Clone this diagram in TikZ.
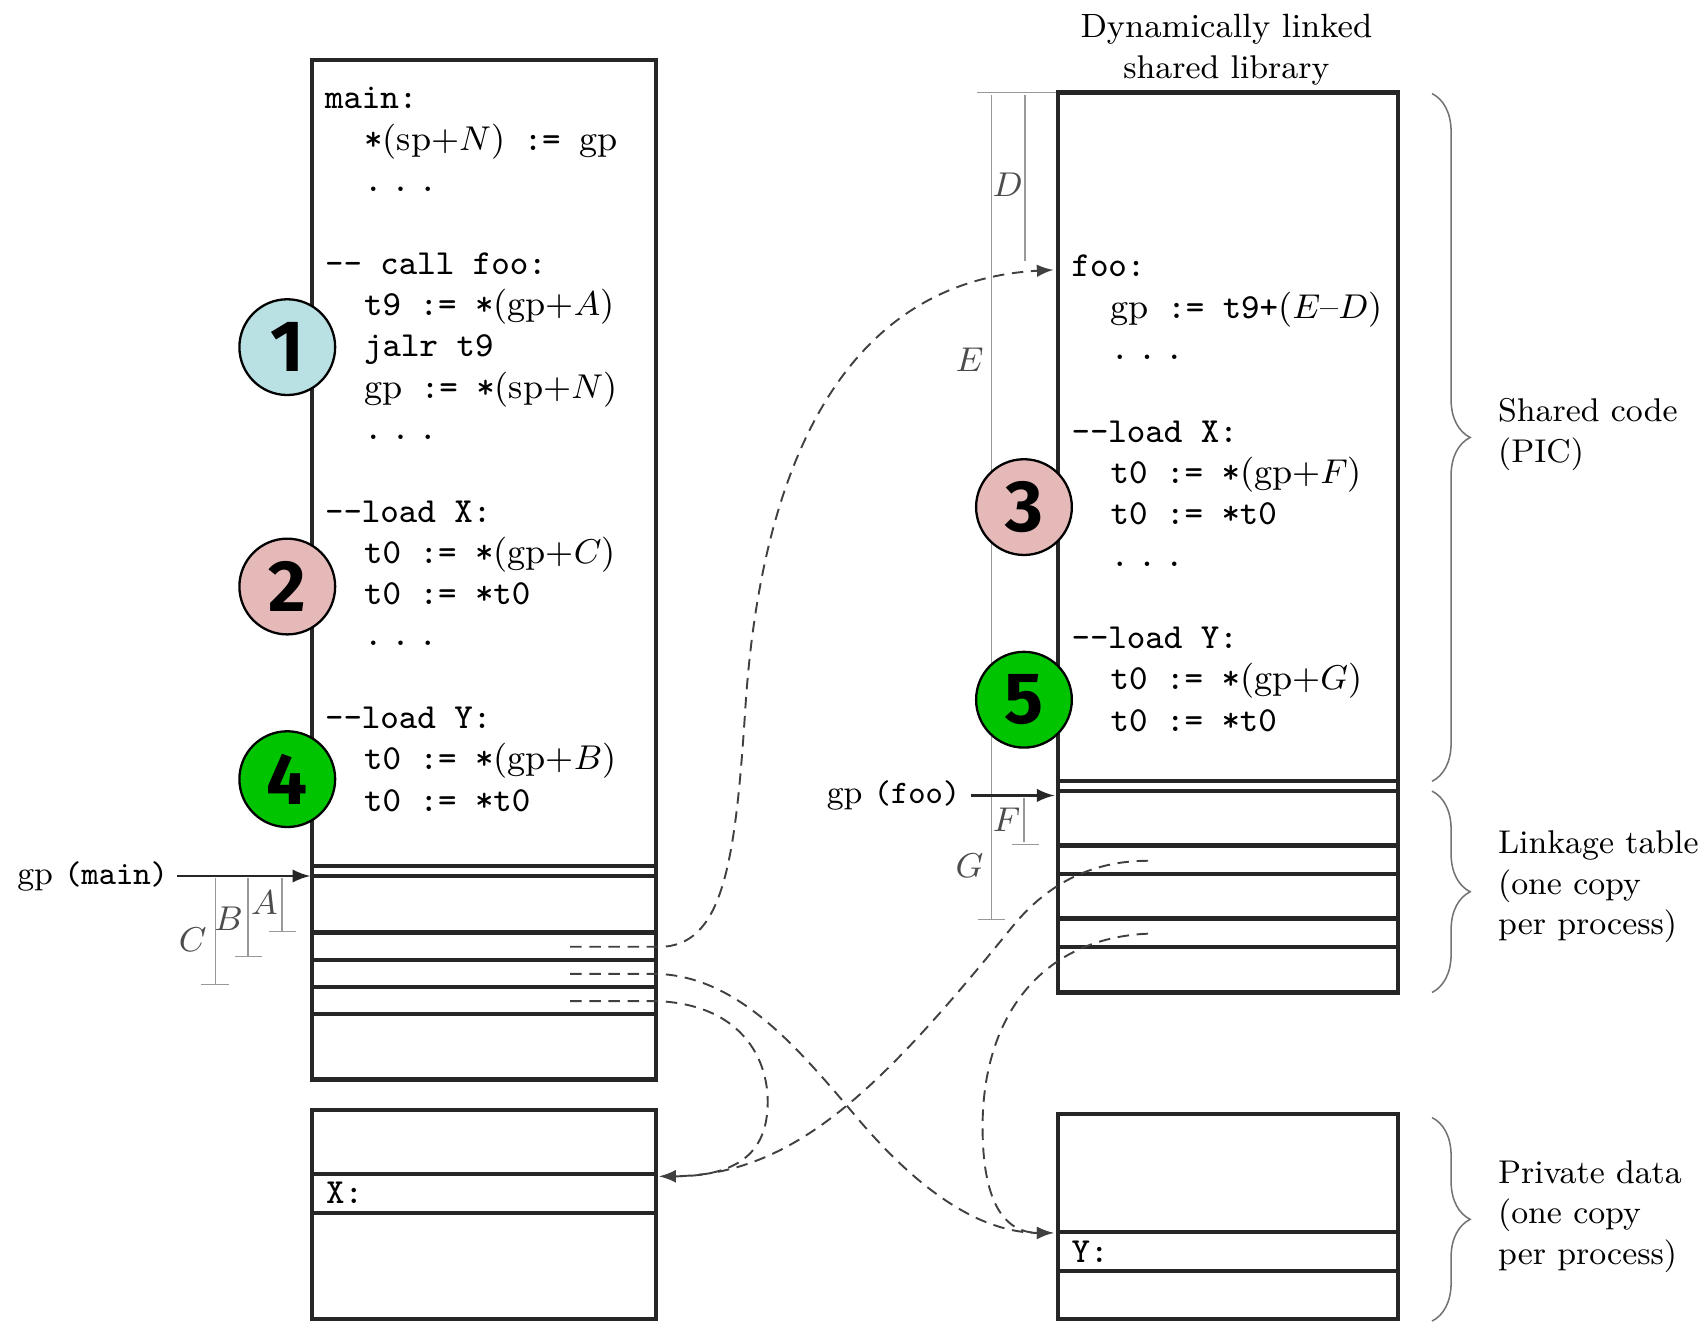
\documentclass[tikz,border=0pt]{standalone}
\usepackage{amsmath}
\usepackage{fontspec}
\newfontfamily\numfont{Fira Sans}
\usetikzlibrary{decorations.pathreplacing}
\definecolor{pblue}{HTML}{B9E1E3}
\definecolor{ppink}{HTML}{E6B9B9}
\definecolor{pgreen}{HTML}{00C400}
\newcommand{\gp}{\textrm{gp}}
\newcommand{\ofs}[2]{\textrm{(#1+}$#2$\textrm{)}}
\newcommand{\ind}{\hspace*{3.6mm}}
\newcommand{\ddd}{.\kern0.8mm.\kern0.8mm.}

\begin{document}
\begin{tikzpicture}[x=0.1mm,y=-0.1mm,
    box/.style={line width=1.1pt,draw=black!85},
    dim/.style={black!40,line width=0.35pt},
    ptr/.style={-latex,black!85,line width=0.6pt},
    link/.style={-latex,black!75,line width=0.5pt,dash pattern=on 3pt off 2pt},
    num/.style={circle,draw,line width=0.6pt,minimum size=8.8mm,inner sep=0pt,
        font=\numfont\bfseries\fontsize{19}{19}\selectfont},
    code/.style={align=left,anchor=base west,inner sep=0pt,
        font=\fontsize{9.2}{10.8}\selectfont\ttfamily},
    lbl/.style={inner sep=0pt,font=\fontsize{8.6}{10.6}\selectfont},
    brc/.style={decorate,decoration={brace,amplitude=3.5mm},black!55,line width=0.4pt}]
    \useasboundingbox (0,0) rectangle (1565,1216);

    % main program and its linkage table
    \draw[box] (287,55) rectangle (603,992);
    \foreach \y in {796,805,857,882,907,932}
        \draw[box] (287,\y) -- (603,\y);
    \draw[box] (287,1020) rectangle (603,1212);
    \foreach \y in {1079,1115}
        \draw[box] (287,\y) -- (603,\y);

    % shared library
    \draw[box] (972,85) rectangle (1285,912);
    \foreach \y in {718,727,777,803,844,870}
        \draw[box] (972,\y) -- (1285,\y);
    \draw[box] (972,1024) rectangle (1285,1212);
    \foreach \y in {1132,1168}
        \draw[box] (972,\y) -- (1285,\y);

    % code (anchored on the baseline of the last line)
    \node[code] (maincode) at (298,745.5) {main:\\
        \ind*\ofs{sp}{N} := \gp\\
        \ind\ddd\\[3.8mm]
        -{}- call foo:\\
        \ind t9 := *\ofs{gp}{A}\\
        \ind jalr t9\\
        \ind\gp{} := *\ofs{sp}{N}\\
        \ind\ddd\\[3.8mm]
        -{}-load X:\\
        \ind t0 := *\ofs{gp}{C}\\
        \ind t0 := *t0\\
        \ind\ddd\\[3.8mm]
        -{}-load Y:\\
        \ind t0 := *\ofs{gp}{B}\\
        \ind t0 := *t0};
    \node[code] (foocode) at (984,672) {foo:\\
        \ind\gp{} := t9+\textrm{(}$E$\textrm{\textendash}$D$\textrm{)}\\
        \ind\ddd\\[3.8mm]
        -{}-load X:\\
        \ind t0 := *\ofs{gp}{F}\\
        \ind t0 := *t0\\
        \ind\ddd\\[3.8mm]
        -{}-load Y:\\
        \ind t0 := *\ofs{gp}{G}\\
        \ind t0 := *t0};
    \node[code] (xvar) at (299,1106) {X:};
    \node[code] (yvar) at (984,1160) {Y:};

    % offsets from gp
    \draw[dim] (259,807) -- (259,856) (247,856) -- (272,856);
    \draw[dim] (228,807) -- (228,879) (216,879) -- (241,879);
    \draw[dim] (198,807) -- (198,905) (185,905) -- (210,905);
    \draw[dim] (898,85) -- (970,85);
    \draw[dim] (911,87) -- (911,845) (899,845) -- (924,845);
    \draw[dim] (942,87) -- (942,240);
    \draw[dim] (941,733) -- (941,774) (930,776) -- (955,776);
    \node[lbl,anchor=base,black!70] (offA) at (243,840) {$A$};
    \node[lbl,anchor=base,black!70] (offB) at (210,855) {$B$};
    \node[lbl,anchor=base,black!70] (offC) at (177,874) {$C$};
    \node[lbl,anchor=base,black!70] (offD) at (926,181) {$D$};
    \node[lbl,anchor=base,black!70] (offE) at (891,341) {$E$};
    \node[lbl,anchor=base,black!70] (offF) at (925,764) {$F$};
    \node[lbl,anchor=base,black!70] (offG) at (891,806) {$G$};

    % global pointers
    \node[lbl,anchor=east] (gpmain) at (155,805) {\gp\ \texttt{(main)}};
    \node[lbl,anchor=east] (gpfoo) at (883,731) {\gp\ \texttt{(foo)}};
    \coordinate (gpm) at (285,805);
    \coordinate (gpf) at (969,731);
    \draw[ptr,shorten <=0.8mm] (gpmain.east) -- (gpm);
    \draw[ptr,shorten <=0.9mm] (gpfoo.east) -- (gpf);

    % indirections through the linkage tables
    \coordinate (sfoo) at (524,870);
    \coordinate (sY) at (524,895);
    \coordinate (sX) at (524,920);
    \coordinate (lX) at (1055,791);
    \coordinate (lY) at (1055,858);
    \coordinate (tfoo) at (968,248);
    \coordinate (tX) at (606,1081);
    \coordinate (tY) at (968,1133);
    \draw[link] (sfoo) -- (610,870) .. controls (665,866) and (676,790) .. (685,650)
        .. controls (700,420) and (780,258) .. (tfoo);
    \draw[link] (sY) -- (605,895) .. controls (680,898) and (735,965) .. (790,1030)
        .. controls (850,1100) and (905,1133) .. (tY);
    \draw[link] (sX) -- (605,920) .. controls (690,924) and (712,985) .. (704,1030)
        .. controls (697,1068) and (665,1081) .. (tX);
    \draw[link] (lX) .. controls (1000,791) and (960,815) .. (930,852)
        .. controls (810,1000) and (730,1080) .. (tX);
    \draw[link] (lY) .. controls (960,862) and (905,930) .. (903,1030)
        .. controls (902,1100) and (920,1133) .. (tY);

    % steps
    \node[num,fill=pblue] (n1) at (264,319) {1};
    \node[num,fill=ppink] (n2) at (264,539) {2};
    \node[num,fill=pgreen] (n4) at (264,716) {4};
    \node[num,fill=ppink] (n3) at (941,466) {3};
    \node[num,fill=pgreen] (n5) at (941,643) {5};

    % segments
    \draw[brc] (1316,86) -- (1316,718);
    \draw[brc] (1316,727) -- (1316,912);
    \draw[brc] (1316,1027) -- (1316,1214);
    \node[lbl,anchor=base,align=center] (lib) at (1127,72)
        {\fontsize{8.8}{11.6}\selectfont Dynamically linked\\shared library};
    \node[lbl,anchor=base west,align=left] (shared) at (1376,425) {Shared code\\(PIC)};
    \node[lbl,anchor=base west,align=left] (linkage) at (1376,859)
        {Linkage table\\(one copy\\per process)};
    \node[lbl,anchor=base west,align=left] (private) at (1376,1162)
        {Private data\\(one copy\\per process)};
\end{tikzpicture}
\end{document}
